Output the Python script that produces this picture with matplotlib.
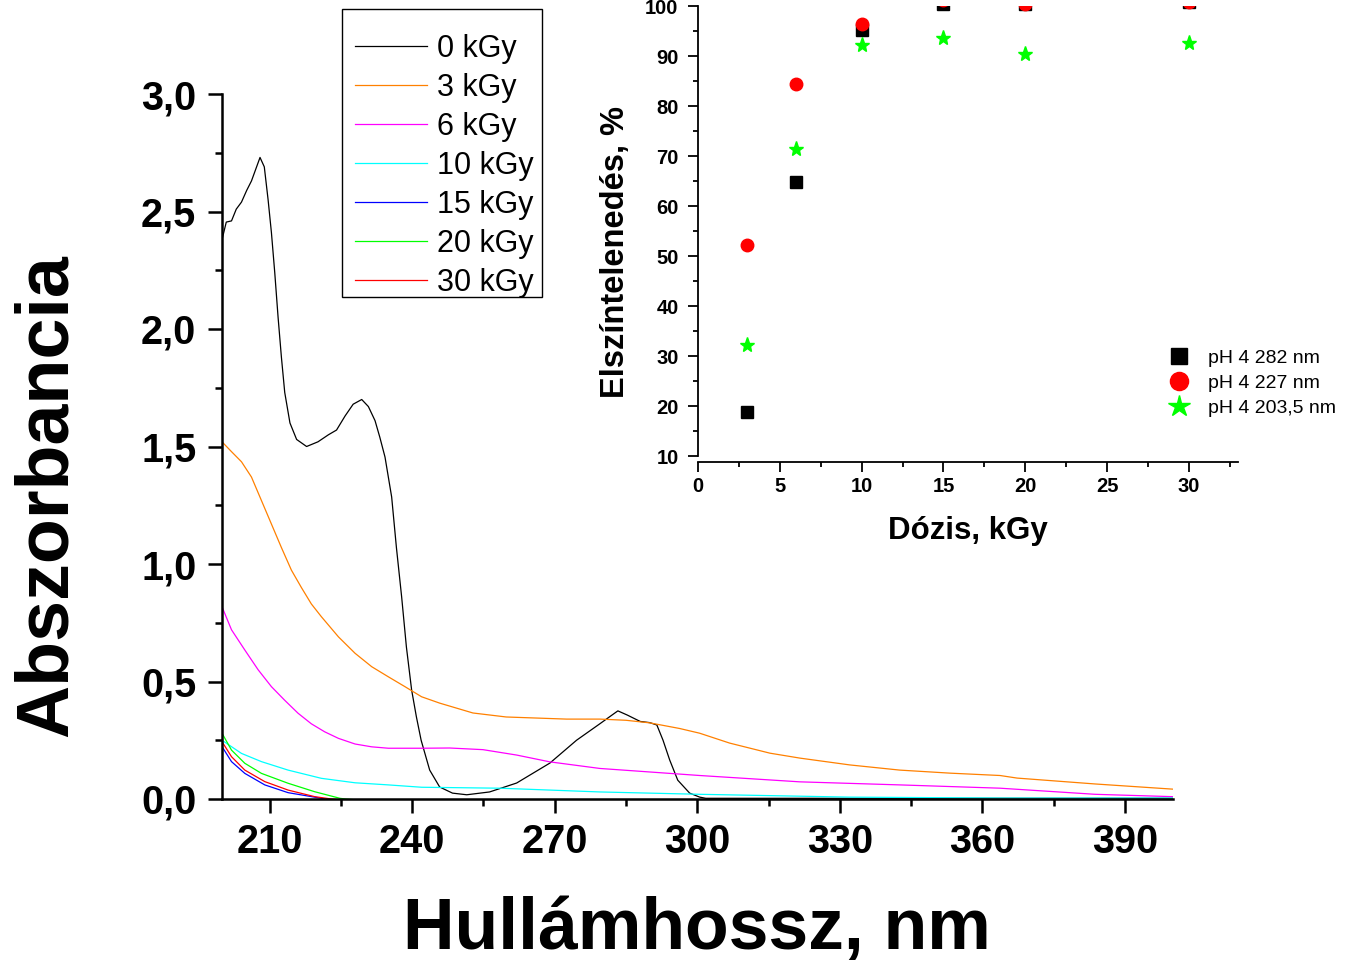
import numpy as np
import matplotlib
matplotlib.use('Agg')
import matplotlib.pyplot as plt
from matplotlib.patches import Rectangle

plt.rcParams['font.family'] = ['Liberation Sans', 'DejaVu Sans']

# UV-Vis spectra, wavelength (nm) and absorbance per dose
wl_0 = [200, 200.9, 202, 203, 204.1, 205.2, 206.2, 208, 208.9, 209.7, 210.4, 211.1,
        211.8, 212.5, 213.2, 214.3, 215.7, 217.8, 220.2, 222.4, 224.1, 225.9, 227.6,
        229.4, 230.8, 232.2, 233.2, 234.3, 235.7, 236.7, 237.8, 238.8, 239.9, 240.9,
        241.9, 243.7, 245.8, 248.5, 251.5, 256.3, 262, 269, 274.6, 279.5, 282.6,
        283.3, 285.3, 288, 290, 291.5, 292.8, 294.2, 295.9, 298.4, 300.5, 301.8,
        320, 350, 400]
abs_0 = [2.38, 2.455, 2.46, 2.51, 2.54, 2.59, 2.63, 2.73, 2.69, 2.55, 2.41, 2.24,
         2.05, 1.88, 1.73, 1.60, 1.53, 1.50, 1.52, 1.55, 1.57, 1.63, 1.68, 1.70,
         1.67, 1.61, 1.54, 1.455, 1.285, 1.07, 0.86, 0.647, 0.464, 0.35, 0.25,
         0.123, 0.051, 0.025, 0.018, 0.03, 0.068, 0.153, 0.25, 0.32, 0.365, 0.375,
         0.357, 0.33, 0.325, 0.315, 0.25, 0.166, 0.08, 0.025, 0.008, 0.003, 0.003,
         0.003, 0.003]

wl_3 = [200, 202, 204.1, 206.2, 208.3, 210.4, 212.5, 214.6, 216.7, 218.8, 220.9,
        224.5, 228, 231.5, 235, 238.5, 242, 245.8, 252.8, 259.8, 272.5, 279.5, 285,
        290, 296.3, 300.5, 306.8, 315.3, 321.6, 332.1, 342.6, 353.2, 363.7, 367.3,
        383.7, 400]
abs_3 = [1.52, 1.478, 1.435, 1.37, 1.27, 1.17, 1.07, 0.974, 0.90, 0.83, 0.776,
         0.69, 0.62, 0.563, 0.52, 0.478, 0.435, 0.408, 0.366, 0.349, 0.34, 0.34,
         0.335, 0.324, 0.30, 0.28, 0.238, 0.195, 0.174, 0.145, 0.123, 0.11, 0.10,
         0.089, 0.064, 0.042]

wl_6 = [200, 202, 204.8, 207.6, 210.4, 213.2, 216, 218.8, 221.6, 224.5, 228, 231.5,
        235, 242, 247.9, 254.9, 262, 269, 279.5, 300.5, 321.6, 342.6, 363.7, 383.7,
        400]
abs_6 = [0.818, 0.72, 0.634, 0.55, 0.478, 0.42, 0.365, 0.32, 0.286, 0.258, 0.234,
         0.222, 0.216, 0.216, 0.217, 0.21, 0.187, 0.158, 0.13, 0.10, 0.073, 0.06,
         0.046, 0.02, 0.01]

wl_10 = [200, 204.1, 208.3, 213.9, 220.9, 228, 235, 242, 258.4, 279.5, 300.5, 332,
         363.7, 400]
abs_10 = [0.25, 0.194, 0.159, 0.123, 0.088, 0.069, 0.06, 0.05, 0.046, 0.03, 0.02,
          0.008, 0.004, 0.004]

wl_15 = [200, 202, 204.8, 209, 213.9, 220.9, 221.6, 226, 400]
abs_15 = [0.223, 0.159, 0.109, 0.06, 0.027, 0.003, 0.0, -0.01, -0.01]

wl_20 = [200, 202, 204.8, 208.3, 213.9, 219.5, 224.8, 226, 232, 400]
abs_20 = [0.28, 0.208, 0.152, 0.109, 0.067, 0.031, 0.003, 0.0, -0.01, -0.01]

wl_30 = [200, 202, 204.8, 209, 213.9, 219.5, 223, 228, 400]
abs_30 = [0.244, 0.18, 0.123, 0.074, 0.038, 0.01, 0.0, -0.01, -0.01]

spectra = [
    (wl_0, abs_0, '0 kGy', 'black'),
    (wl_3, abs_3, '3 kGy', '#FF8000'),
    (wl_6, abs_6, '6 kGy', '#FF00FF'),
    (wl_10, abs_10, '10 kGy', '#00FFFF'),
    (wl_15, abs_15, '15 kGy', '#0000FF'),
    (wl_20, abs_20, '20 kGy', '#00FF00'),
    (wl_30, abs_30, '30 kGy', '#FF0000'),
]

x_ticks = [210, 240, 270, 300, 330, 360, 390]
y_ticks = [0.0, 0.5, 1.0, 1.5, 2.0, 2.5, 3.0]
y_ticklabels = ['0,0', '0,5', '1,0', '1,5', '2,0', '2,5', '3,0']

# decolourisation (%) vs dose for the inset
dose = [3, 6, 10, 15, 20, 30]
decol_282 = [18.8, 64.8, 95.2, 100.5, 100.4, 100.9]
decol_227 = [52.3, 84.5, 96.4, 101.2, 100.4, 100.9]
decol_2035 = [32.3, 71.4, 92.2, 93.7, 90.4, 92.7]

W, H = 1346, 964
fig = plt.figure(figsize=(W / 100, H / 100), dpi=100)

# main axes
ax = fig.add_axes([222 / W, 1 - 799 / H, (1172.5 - 222) / W, (799 - 94) / H])
for wl, a, lab, col in spectra:
    ax.plot(wl, a, color=col, lw=0.9, label=lab)
ax.set_xlim(200, 400)
ax.set_ylim(0, 3.0)
ax.spines['top'].set_visible(False)
ax.spines['right'].set_visible(False)
for s in ['left', 'bottom']:
    ax.spines[s].set_linewidth(1.8)
ax.set_xticks(x_ticks)
ax.set_xticks([225, 255, 285, 315, 345, 375], minor=True)
ax.set_yticks(y_ticks)
ax.set_yticklabels(y_ticklabels)
ax.set_yticks([0.25, 0.75, 1.25, 1.75, 2.25, 2.75], minor=True)
ax.tick_params(which='major', direction='out', length=10, width=1.8,
               labelsize=28.5, pad=7)
ax.tick_params(axis='y', which='major', pad=8.5)
ax.tick_params(which='minor', direction='out', length=5, width=1.8)
for t in ax.get_xticklabels() + ax.get_yticklabels():
    t.set_fontweight('bold')

ax.set_xlabel('Hullámhossz, nm', fontsize=51.5, fontweight='bold', va='center')
ax.xaxis.set_label_coords(0.5, (799 - 930) / 705)
ax.set_ylabel('Abszorbancia', fontsize=53, fontweight='bold', va='center')
ax.yaxis.set_label_coords((47 - 222) / 950.5, (799 - 496) / 705)

ax.legend(loc='upper left', bbox_to_anchor=(355 / W, 1 - 33.8 / H),
          bbox_transform=fig.transFigure, fontsize=22, frameon=False,
          handlelength=2.35, handletextpad=0.33, labelspacing=0.295,
          borderpad=0, borderaxespad=0)
# legend box
fig.add_artist(Rectangle((342 / W, 1 - 297 / H), 200 / W, 288 / H,
                         transform=fig.transFigure, fill=False,
                         edgecolor='black', linewidth=1.0))

# inset axes
ins = fig.add_axes([698 / W, 1 - 462 / H, (1238 - 698) / W, (462 - 6) / H])
ins.plot(dose, decol_282, ls='none', marker='s', ms=8, color='black',
         label='pH 4 282 nm')
ins.plot(dose, decol_227, ls='none', marker='o', ms=9, color='#FF0000',
         label='pH 4 227 nm')
ins.plot(dose, decol_2035, ls='none', marker='*', ms=11, color='#00FF00',
         label='pH 4 203,5 nm')
ins.set_xlim(0, 33)
ins.set_ylim(8.8, 100)
ins.spines['top'].set_visible(False)
ins.spines['right'].set_visible(False)
ins.spines['left'].set_bounds(10, 100)
for s in ['left', 'bottom']:
    ins.spines[s].set_linewidth(1.3)
ins.set_xticks([0, 5, 10, 15, 20, 25, 30])
ins.set_xticks([2.5, 7.5, 12.5, 17.5, 22.5, 27.5, 32.5], minor=True)
ins.set_yticks([10, 20, 30, 40, 50, 60, 70, 80, 90, 100])
ins.set_yticks([15, 25, 35, 45, 55, 65, 75, 85, 95], minor=True)
ins.tick_params(which='major', direction='out', length=7, width=1.3,
                labelsize=14.5)
ins.tick_params(axis='y', which='major', pad=7)
ins.tick_params(axis='x', which='major', pad=4)
ins.tick_params(which='minor', direction='out', length=3.5, width=1.3)
for t in ins.get_xticklabels() + ins.get_yticklabels():
    t.set_fontweight('bold')
ins.set_xlabel('Dózis, kGy', fontsize=22.5, fontweight='bold', va='center')
ins.xaxis.set_label_coords(0.5, (462 - 531) / 456)
ins.set_ylabel('Elszíntelenedés, %', fontsize=23.5, fontweight='bold', va='center')
ins.yaxis.set_label_coords((615 - 698) / 540, (462 - 252) / 456)

ins.legend(loc='upper left', bbox_to_anchor=(1169.6 / W, 1 - 349 / H),
           bbox_transform=fig.transFigure, fontsize=14, frameon=False,
           markerscale=1.45, handlelength=1.0, handletextpad=1.0,
           labelspacing=0.39, borderpad=0, borderaxespad=0)

fig.savefig('out.png', dpi=100)
